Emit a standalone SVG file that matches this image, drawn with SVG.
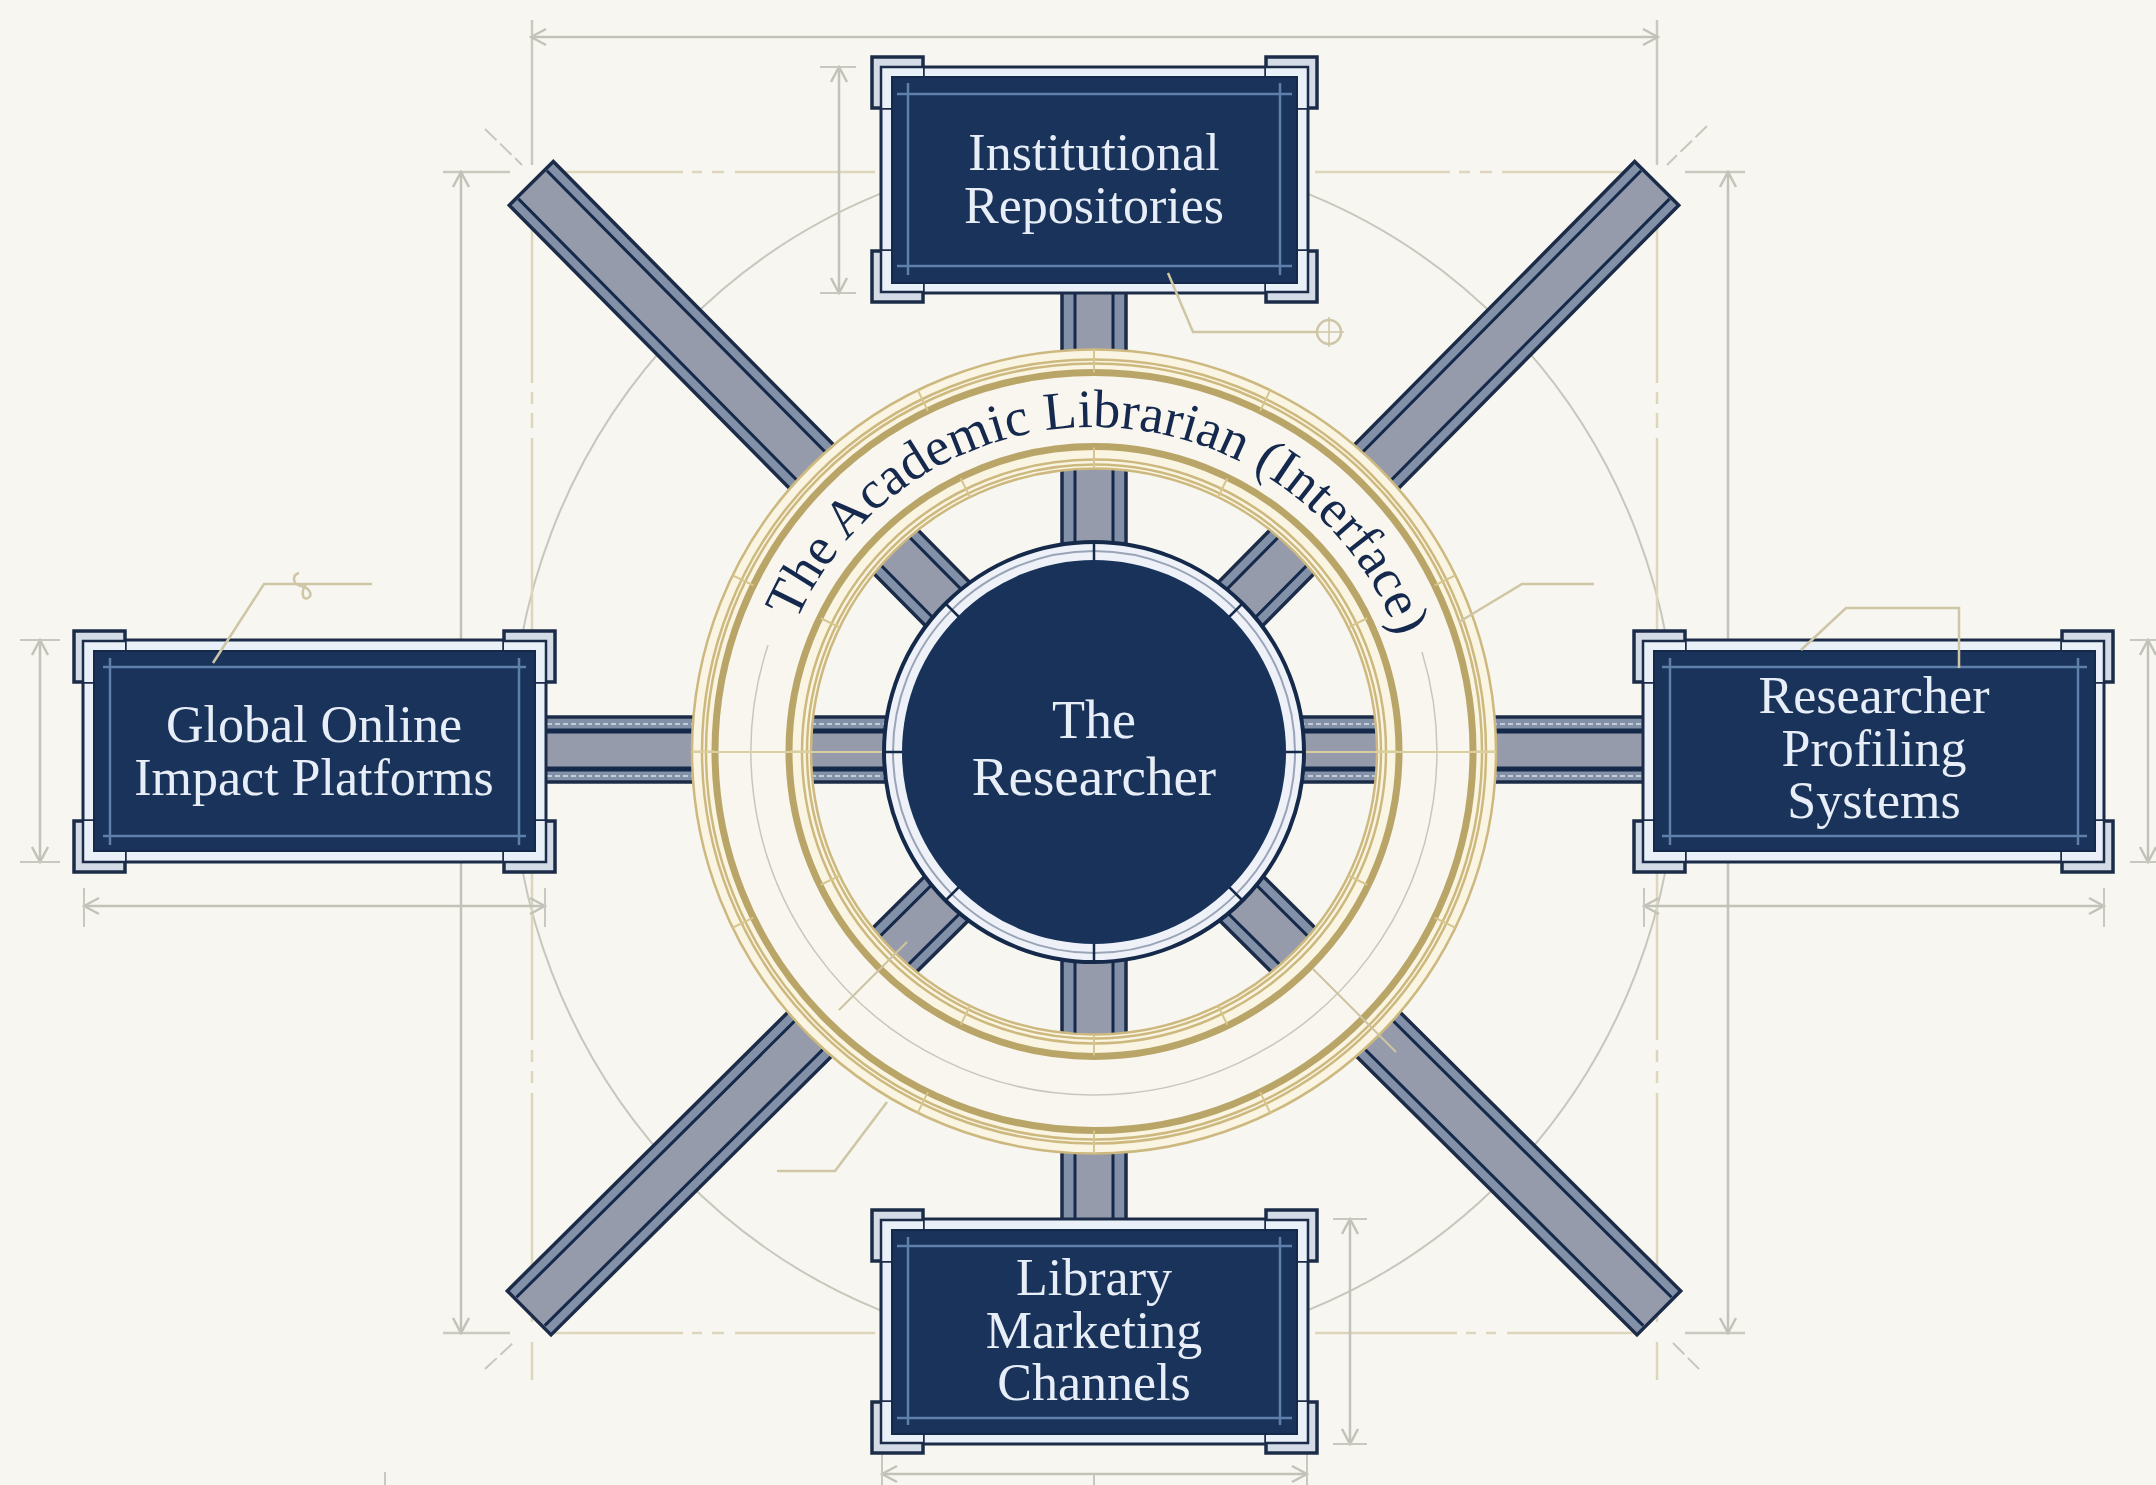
<svg xmlns="http://www.w3.org/2000/svg" xmlns:xlink="http://www.w3.org/1999/xlink" width="2156" height="1485" viewBox="0 0 2156 1485">
<style>
.gray{fill:none;stroke:#c9c9c0;stroke-width:2.5}
.thin{fill:none;stroke:#c8c7bc;stroke-width:2}
.gold{fill:none;stroke:#ddd6bd;stroke-width:2.5}
.dim{fill:none;stroke:#c2c2b9;stroke-width:2.5;marker-start:url(#arr);marker-end:url(#arr)}
.ext{fill:none;stroke:#c9c8bf;stroke-width:2}
.lead{fill:none;stroke:#cfc6a6;stroke-width:2.5}
.edge{fill:#8290a8;stroke:#1c2c48;stroke-width:3.5}
.core{fill:#969bac}
.rule{stroke:#15294a;stroke-width:3}
.ruleh{stroke:#15294a;stroke-width:5}
.strip{stroke:#c3cada;stroke-width:2;stroke-dasharray:5 3}
.border{fill:#e9f0f8;stroke:#1c2c48;stroke-width:3}
.panel{fill:#1a335a;stroke:#15294a;stroke-width:2}
.inner{stroke:#5f80ab;stroke-width:2.5}
.label{font-family:"Liberation Serif","Times New Roman",serif;font-size:52px;fill:#e7eef7;text-anchor:middle}
.rtk{stroke:#d6c68e;stroke-width:2}
.rthick{fill:none;stroke:#b9a568;stroke-width:7}
.rthin{fill:none;stroke:#cdb97f;stroke-width:2.5}
</style>
<defs>
<marker id="arr" viewBox="-18 -11 20 22" refX="0" refY="0" markerWidth="20" markerHeight="22" markerUnits="userSpaceOnUse" orient="auto-start-reverse">
<path d="M-15 -8 L0 0 L-15 8" fill="none" stroke="#c2c2b9" stroke-width="2.5"/>
</marker>
<g id="corner">
<rect x="0" y="0" width="51" height="51" fill="#d3dbe7" stroke="#1c2c48" stroke-width="3.5"/>
<path d="M9 51 V10 H51 V51 H9 Z" fill="#e9f0f8" stroke="none"/>
<path d="M9 51 V10 H51" fill="none" stroke="#1c2c48" stroke-width="2.5"/>
</g>
<g id="ticks">
<line x1="0" y1="-402" x2="0" y2="-379" class="rtk"/>
<line x1="0" y1="-304" x2="0" y2="-283" class="rtk"/>
</g>
</defs>
<rect width="2156" height="1485" fill="#f7f6f1"/>

<g id="guides">
<ellipse cx="1094" cy="752" rx="583" ry="600" class="thin"/>
<path d="M532 20V165M1657 20V165M443 172H510M1685 172H1745M443 1333H510M1685 1333H1745" class="gray"/>
<path d="M532 182V383M532 392V404M532 413V428M532 438V1040M532 1050V1062M532 1071V1083M532 1093V1322M532 1342V1380" class="gold"/>
<path d="M1657 182V383M1657 392V404M1657 413V428M1657 438V1040M1657 1050V1062M1657 1071V1083M1657 1093V1322M1657 1342V1380" class="gold"/>
<path d="M550 172H683M692 172H702M712 172H724M735 172H875M1315 172H1450M1459 172H1470M1480 172H1492M1502 172H1640" class="gold"/>
<path d="M550 1333H683M692 1333H702M712 1333H724M735 1333H875M1315 1333H1457M1466 1333H1476M1486 1333H1496M1507 1333H1640" class="gold"/>
<path d="M485 129L522 165M1707 126L1667 165M485 1369L513 1343M1673 1343L1700 1370" class="thin" stroke-dasharray="16 5"/>
</g>

<g id="dimensions">
<line x1="531" y1="37" x2="1658" y2="37" class="dim"/>
<line x1="461" y1="172" x2="461" y2="1333" class="dim"/>
<line x1="1728" y1="172" x2="1728" y2="1333" class="dim"/>
<line x1="839" y1="67" x2="839" y2="293" class="dim"/>
<path d="M820 67H856M820 293H856" class="ext"/>
<line x1="1350" y1="1219" x2="1350" y2="1444" class="dim"/>
<path d="M1333 1219H1367M1333 1444H1367" class="ext"/>
<line x1="40" y1="640" x2="40" y2="862" class="dim"/>
<path d="M20 640H60M20 862H60" class="ext"/>
<line x1="2148" y1="640" x2="2148" y2="862" class="dim"/>
<path d="M2130 640H2156M2130 862H2156" class="ext"/>
<line x1="84" y1="906" x2="545" y2="906" class="dim"/>
<path d="M84 888V927M545 888V927" class="ext"/>
<line x1="1644" y1="906" x2="2104" y2="906" class="dim"/>
<path d="M1644 888V927M2104 888V927" class="ext"/>
<line x1="882" y1="1474" x2="1307" y2="1474" class="dim"/>
<path d="M882 1448V1485M1307 1448V1485M1094 1474V1485M385 1472V1485" class="ext"/>
</g>

<g id="connectors">
<g id="spoke-nw" transform="translate(1094 752) rotate(225.3)"><rect x="190" y="-31" width="610" height="62" class="edge"/><rect x="190" y="-20" width="608" height="40" class="core"/><path d="M190 -20H798M190 20H798" class="rule"/></g>
<g id="spoke-ne" transform="translate(1094 752) rotate(-45.3)"><rect x="190" y="-31" width="610" height="62" class="edge"/><rect x="190" y="-20" width="608" height="40" class="core"/><path d="M190 -20H798M190 20H798" class="rule"/></g>
<g id="spoke-sw" transform="translate(1094 752) rotate(135.2)"><rect x="190" y="-31" width="606" height="62" class="edge"/><rect x="190" y="-20" width="604" height="40" class="core"/><path d="M190 -20H794M190 20H794" class="rule"/></g>
<g id="spoke-se" transform="translate(1094 752) rotate(44.8)"><rect x="190" y="-31" width="606" height="62" class="edge"/><rect x="190" y="-20" width="604" height="40" class="core"/><path d="M190 -20H794M190 20H794" class="rule"/></g>
<g id="spoke-n" transform="translate(1094 752) rotate(-90)"><rect x="190" y="-32" width="270" height="64" class="edge"/><rect x="190" y="-19" width="270" height="38" class="core"/><path d="M190 -19H460M190 19H460" class="rule"/></g>
<g id="spoke-s" transform="translate(1094 752) rotate(90)"><rect x="190" y="-32" width="470" height="64" class="edge"/><rect x="190" y="-19" width="470" height="38" class="core"/><path d="M190 -19H660M190 19H660" class="rule"/></g>
<g id="spoke-w" transform="translate(1094 750) rotate(180)"><rect x="190" y="-32" width="554" height="65" class="edge"/><rect x="190" y="-18" width="554" height="36" class="core"/><path d="M190 -19H744M190 19H744" class="ruleh"/><path d="M190 -26H744M190 26H744" class="strip"/></g>
<g id="spoke-e" transform="translate(1094 750)"><rect x="190" y="-33" width="556" height="65" class="edge"/><rect x="190" y="-18" width="556" height="36" class="core"/><path d="M190 -19H746M190 19H746" class="ruleh"/><path d="M190 -26H746M190 26H746" class="strip"/></g>
</g>

<g id="librarian-ring">
<circle cx="1094" cy="751.5" r="342.5" fill="none" stroke="#f8f6ee" stroke-width="119"/>
<circle cx="1094" cy="751.5" r="390" fill="none" stroke="#faf5e2" stroke-width="22"/>
<circle cx="1094" cy="751.5" r="294" fill="none" stroke="#faf5e2" stroke-width="22"/>
<circle cx="1094" cy="751.5" r="402" class="rthin"/>
<circle cx="1094" cy="751.5" r="392" class="rthin"/>
<circle cx="1094" cy="751.5" r="388" class="rthin"/>
<circle cx="1094" cy="751.5" r="379" class="rthick"/>
<circle cx="1094" cy="751.5" r="305" class="rthick"/>
<circle cx="1094" cy="751.5" r="292" class="rthin"/>
<circle cx="1094" cy="751.5" r="287" class="rthin"/>
<circle cx="1094" cy="751.5" r="283" class="rthin"/>
<path d="M768 645A343 343 0 1 0 1422 652" fill="none" stroke="#c8c7bc" stroke-width="1.5"/>
<path d="M839 1010L907 942M1313 969L1396 1052" fill="none" stroke="#cdc4a2" stroke-width="2"/>
<use href="#ticks" transform="translate(1094 751.5)"/>
<use href="#ticks" transform="translate(1094 751.5) rotate(26)"/>
<use href="#ticks" transform="translate(1094 751.5) rotate(-26)"/>
<use href="#ticks" transform="translate(1094 751.5) rotate(64)"/>
<use href="#ticks" transform="translate(1094 751.5) rotate(-64)"/>
<use href="#ticks" transform="translate(1094 751.5) rotate(90)"/>
<use href="#ticks" transform="translate(1094 751.5) rotate(-90)"/>
<use href="#ticks" transform="translate(1094 751.5) rotate(116)"/>
<use href="#ticks" transform="translate(1094 751.5) rotate(-116)"/>
<use href="#ticks" transform="translate(1094 751.5) rotate(154)"/>
<use href="#ticks" transform="translate(1094 751.5) rotate(-154)"/>
<use href="#ticks" transform="translate(1094 751.5) rotate(180)"/>
<path id="ringText" d="M775.5 687.2A325 325 0 0 1 1415.4 704" fill="none"/>
<text font-family="'Liberation Serif','Times New Roman',serif" font-size="54" fill="#14294d" text-anchor="middle"><textPath href="#ringText" startOffset="50%">The Academic Librarian (Interface)</textPath></text>
<path d="M692 752H890M1298 752H1496" fill="none" stroke="#d9cf9f" stroke-width="2"/>
</g>

<g id="researcher">
<circle cx="1094" cy="752" r="210" fill="#eef2f8" stroke="#15294a" stroke-width="4"/>
<circle cx="1094" cy="752" r="201" fill="none" stroke="#9aa4b6" stroke-width="2"/>
<path d="M1094 542V562M1094 942V962M884 752H904M1284 752H1304M945 603L959 617M1243 603L1229 617M945 901L959 887M1243 901L1229 887" stroke="#15294a" stroke-width="2.5" fill="none"/>
<circle cx="1094" cy="752" r="192" fill="#183259"/>
<text class="label" x="1094" y="738" style="font-size:54px">The</text>
<text class="label" x="1094" y="795" style="font-size:55px">Researcher</text>
</g>

<g id="node-top">
<rect x="881" y="67" width="427" height="226" class="border"/>
<use href="#corner" transform="translate(872 57)"/><use href="#corner" transform="translate(1317 57) scale(-1 1)"/><use href="#corner" transform="translate(872 302) scale(1 -1)"/><use href="#corner" transform="translate(1317 302) scale(-1 -1)"/>
<rect x="892" y="77" width="405" height="206" class="panel"/>
<path d="M897 94H1292M897 266H1292M908 83V275M1280 83V275" class="inner"/>
<text class="label" x="1094" y="170">Institutional</text>
<text class="label" x="1094" y="223">Repositories</text>
</g>

<g id="node-left">
<rect x="83" y="640" width="463" height="222" class="border"/>
<use href="#corner" transform="translate(74 631)"/><use href="#corner" transform="translate(555 631) scale(-1 1)"/><use href="#corner" transform="translate(74 872) scale(1 -1)"/><use href="#corner" transform="translate(555 872) scale(-1 -1)"/>
<rect x="94" y="651" width="441" height="200" class="panel"/>
<path d="M103 667H526M103 836H526M110 658V845M519 658V845" class="inner"/>
<text class="label" x="314" y="742">Global Online</text>
<text class="label" x="314" y="795">Impact Platforms</text>
</g>

<g id="node-right">
<rect x="1643" y="640" width="461" height="222" class="border"/>
<use href="#corner" transform="translate(1634 631)"/><use href="#corner" transform="translate(2113 631) scale(-1 1)"/><use href="#corner" transform="translate(1634 872) scale(1 -1)"/><use href="#corner" transform="translate(2113 872) scale(-1 -1)"/>
<rect x="1654" y="651" width="441" height="200" class="panel"/>
<path d="M1662 667H2087M1662 836H2087M1670 658V845M2078 658V845" class="inner"/>
<text class="label" x="1874" y="713">Researcher</text>
<text class="label" x="1874" y="766">Profiling</text>
<text class="label" x="1874" y="818">Systems</text>
</g>

<g id="node-bottom">
<rect x="881" y="1219" width="427" height="225" class="border"/>
<use href="#corner" transform="translate(872 1210)"/><use href="#corner" transform="translate(1317 1210) scale(-1 1)"/><use href="#corner" transform="translate(872 1453) scale(1 -1)"/><use href="#corner" transform="translate(1317 1453) scale(-1 -1)"/>
<rect x="892" y="1230" width="405" height="204" class="panel"/>
<path d="M897 1246H1292M897 1418H1292M908 1237V1425M1280 1237V1425" class="inner"/>
<text class="label" x="1094" y="1295">Library</text>
<text class="label" x="1094" y="1348">Marketing</text>
<text class="label" x="1094" y="1400">Channels</text>
</g>

<g id="leaders">
<path d="M1168 273L1193 332H1317" class="lead"/>
<circle cx="1329" cy="332" r="12" class="lead"/>
<path d="M1329 317V347M1314 332H1344" class="lead" style="stroke-width:1.5"/>
<path d="M213 663L264 584H372" class="lead"/>
<path d="M299 573C292 575 292 584 301 586C310 588 313 595 308 598C302 601 301 591 306 584" class="lead"/>
<path d="M1459 622L1522 584H1594" class="lead"/>
<path d="M1801 650L1846 608H1959V668" class="lead"/>
<path d="M887 1102L835 1171H777" class="lead"/>
</g>
</svg>
